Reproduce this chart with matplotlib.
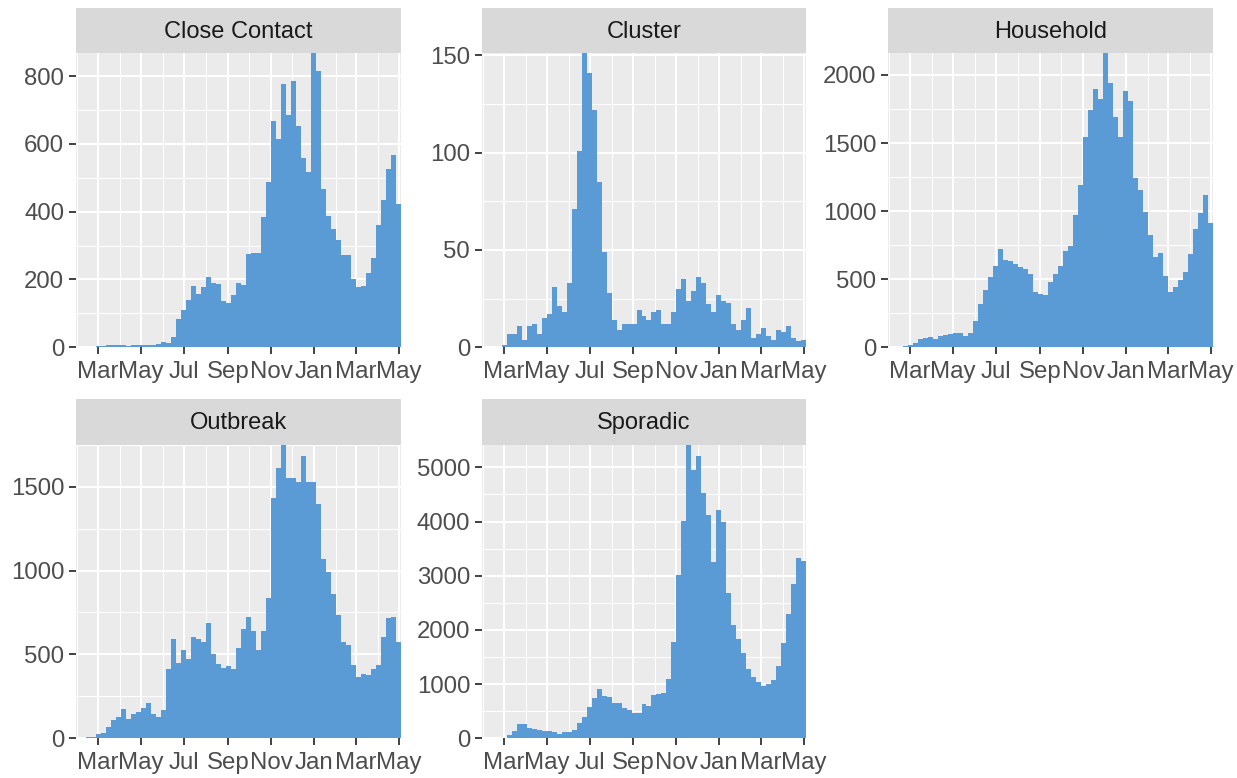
import numpy as np
import matplotlib
matplotlib.use("Agg")
import matplotlib.pyplot as plt
import matplotlib.dates as mdates
from matplotlib.ticker import AutoMinorLocator, MultipleLocator

plt.rcParams["font.family"] = ["Liberation Sans", "DejaVu Sans"]

# weekly case counts by source of infection (65 bins, late Jan 2020 - early May 2021)
first_day = "2020-01-30"
last_day = "2021-05-04"

close_contact = [2, 2, 2, 2, 4, 5, 8, 7, 6, 6, 5, 7, 6, 7, 8, 6, 9, 15, 14,
                 31, 84, 110, 139, 182, 157, 178, 207, 191, 188, 137, 130, 155,
                 189, 185, 274, 277, 277, 384, 487, 668, 614, 777, 686, 786,
                 653, 559, 516, 867, 814, 467, 387, 349, 316, 271, 272, 202,
                 177, 181, 220, 262, 361, 434, 526, 567, 423]
cluster = [0.4, 0.4, 0.4, 0.4, 1, 7, 7, 11, 4, 11, 12, 7, 15, 17, 31, 21, 18,
           33, 71, 101, 151, 141, 122, 85, 49, 28, 14, 9, 12, 12, 12, 19, 16,
           14, 18, 19, 12, 12, 18, 30, 35, 24, 29, 36, 33, 22, 18, 27, 24, 23,
           12, 9, 14, 20, 5, 7, 10, 6, 4, 9, 8, 11, 5, 3, 4]
household = [5, 5, 5, 6, 17, 29, 61, 71, 76, 61, 81, 91, 100, 105, 105, 83,
             108, 193, 316, 421, 517, 600, 720, 639, 634, 610, 592, 573, 539,
             409, 395, 384, 480, 541, 595, 707, 742, 974, 1195, 1547, 1743,
             1895, 1826, 2159, 1944, 1694, 1547, 1883, 1807, 1241, 1155, 994,
             825, 661, 695, 524, 406, 441, 494, 556, 685, 869, 984, 1119, 911]
outbreak = [2, 2, 5, 10, 26, 34, 70, 109, 129, 173, 117, 145, 159, 179, 209,
            143, 129, 169, 411, 594, 451, 525, 471, 606, 592, 572, 685, 501,
            443, 417, 431, 415, 536, 650, 723, 640, 527, 640, 838, 1431, 1613,
            1750, 1550, 1550, 1530, 1683, 1526, 1526, 1397, 1067, 993, 860,
            733, 576, 556, 437, 364, 385, 377, 413, 435, 602, 715, 723, 576]
sporadic = [10, 10, 10, 10, 12, 62, 141, 258, 258, 197, 165, 145, 132, 129,
            111, 86, 111, 120, 154, 277, 387, 584, 738, 910, 781, 769, 646,
            646, 553, 523, 461, 474, 633, 597, 793, 818, 843, 1089, 1777, 3007,
            4016, 5418, 4951, 5209, 4526, 4120, 3247, 4213, 3998, 2675, 2085,
            1827, 1568, 1273, 1138, 1039, 966, 1002, 1082, 1335, 1753, 2288,
            2847, 3321, 3272]

titles = ["Close Contact", "Cluster", "Household", "Outbreak", "Sporadic"]
series = [close_contact, cluster, household, outbreak, sporadic]
y_steps = [200, 50, 500, 500, 1000]

bar_color = "#5B9BD5"
W, H = 1237, 778

# panel boxes in pixels: left, top of plot area, width, height
boxes = [(76, 53.3, 325, 294), (482, 53.3, 324, 294), (888, 53.3, 325, 294),
         (76, 444.7, 325, 293.6), (482, 444.7, 324, 293.6)]
strip_h = 45.5

edges = np.linspace(mdates.datestr2num(first_day),
                    mdates.datestr2num(last_day), len(close_contact) + 1)

fig = plt.figure(figsize=(W / 100, H / 100), dpi=100, facecolor="white")

for title, vals, step, (left, top, w, h) in zip(titles, series, y_steps, boxes):
    ax = fig.add_axes([left / W, (H - top - h) / H, w / W, h / H])
    ax.set_facecolor("#EBEBEB")
    ax.set_axisbelow(True)
    ax.stairs(vals, edges, fill=True, color=bar_color, baseline=0, lw=0)

    ax.set_xlim(edges[0], edges[-1])
    ax.set_ylim(0, max(vals))

    ax.xaxis.set_major_locator(mdates.MonthLocator(bymonth=[1, 3, 5, 7, 9, 11]))
    ax.xaxis.set_minor_locator(mdates.MonthLocator(bymonth=[2, 4, 6, 8, 10, 12]))
    ax.xaxis.set_major_formatter(mdates.DateFormatter("%b"))
    ax.yaxis.set_major_locator(MultipleLocator(step))
    ax.yaxis.set_minor_locator(AutoMinorLocator(2))

    ax.grid(which="major", color="white", lw=1.5)
    ax.grid(which="minor", color="white", lw=0.75)
    ax.tick_params(which="major", length=5, width=1.3, color="#333333",
                   labelcolor="#4D4D4D", labelsize=17.3, pad=3.5)
    ax.tick_params(axis="x", which="major", pad=5)
    ax.tick_params(which="minor", length=0)
    for spine in ax.spines.values():
        spine.set_visible(False)

    # facet strip
    sx = fig.add_axes([left / W, (H - top) / H, w / W, strip_h / H])
    sx.set_facecolor("#D9D9D9")
    sx.set_xticks([])
    sx.set_yticks([])
    for spine in sx.spines.values():
        spine.set_visible(False)
    sx.text(0.5, 0.47, title, ha="center", va="center", fontsize=17,
            color="#1A1A1A", transform=sx.transAxes)

fig.savefig("out.png", dpi=100, facecolor="white")
